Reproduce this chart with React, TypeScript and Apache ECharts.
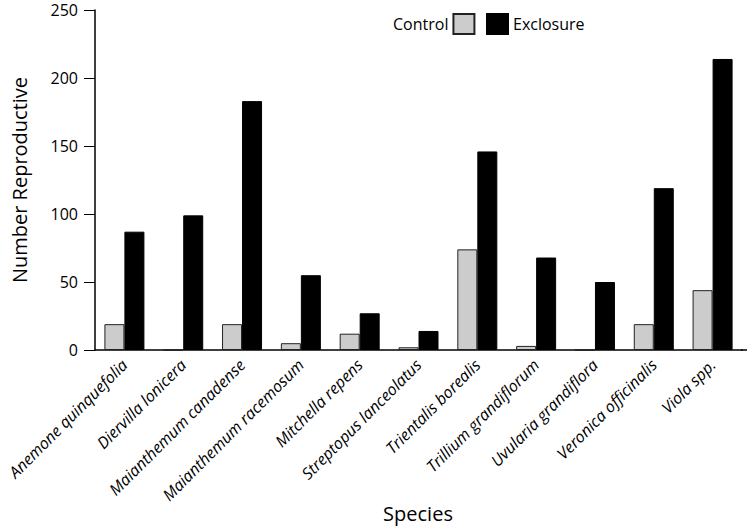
import React, { useEffect, useRef } from "react";
import * as echarts from "echarts";

const species = [
  "Anemone quinquefolia",
  "Diervilla lonicera",
  "Maianthemum canadense",
  "Maianthemum racemosum",
  "Mitchella repens",
  "Streptopus lanceolatus",
  "Trientalis borealis",
  "Trillium grandiflorum",
  "Uvularia grandiflora",
  "Veronica officinalis",
  "Viola spp.",
];
const control = [19, 0, 19, 5, 12, 2, 74, 3, 0, 19, 44];
const exclosure = [87, 99, 183, 55, 27, 14, 146, 68, 50, 119, 214];
const yTicks = [0, 50, 100, 150, 200, 250];

const FONT = "'Open Sans', 'Noto Sans', sans-serif";

export default function App() {
  const ref = useRef<HTMLDivElement>(null);
  useEffect(() => {
    if (!ref.current) return;
    const chart = echarts.init(ref.current, undefined, { renderer: "svg" });
    chart.setOption({
      animation: false,
      backgroundColor: "#ffffff",
      textStyle: { fontFamily: FONT },
      legend: [
        {
          data: ["Control"],
          left: 388,
          top: 8,
          align: "right",
          itemWidth: 21,
          itemHeight: 20,
          icon: "rect",
          textStyle: { fontSize: 16, color: "#000", fontFamily: FONT },
          selectedMode: false,
        },
        {
          data: ["Exclosure"],
          left: 481,
          top: 8,
          align: "left",
          itemWidth: 21,
          itemHeight: 20,
          icon: "rect",
          textStyle: { fontSize: 16, color: "#000", fontFamily: FONT },
          selectedMode: false,
        },
      ],
      grid: {
        left: 95,
        top: 10,
        width: 647,
        height: 340,
        containLabel: false,
        outerBoundsMode: "none",
      },
      graphic: [
        {
          type: "line",
          shape: { x1: 741, y1: 350, x2: 747, y2: 350 },
          style: { stroke: "#000", lineWidth: 1.5 },
        },
        {
          type: "text",
          x: 418,
          y: 513,
          style: {
            text: "Species",
            fontSize: 20,
            fontFamily: FONT,
            fill: "#000",
            textAlign: "center",
            textVerticalAlign: "middle",
          },
        },
      ],
      xAxis: {
        type: "category",
        data: species,
        axisLine: { lineStyle: { color: "#000", width: 1.5 } },
        axisTick: { show: false },
        axisLabel: {
          rotate: 45,
          interval: 0,
          margin: 12,
          fontStyle: "italic",
          fontSize: 16,
          color: "#000",
          fontFamily: FONT,
        },
      },
      yAxis: {
        type: "value",
        min: 0,
        max: 250,
        interval: 50,
        name: "Number Reproductive",
        nameLocation: "middle",
        nameGap: 66,
        nameTextStyle: { fontSize: 20, color: "#000", fontFamily: FONT },
        axisLine: { show: true, lineStyle: { color: "#000", width: 1.5 } },
        axisTick: { show: true, length: 11, lineStyle: { color: "#000", width: 1 } },
        axisLabel: {
          fontSize: 16,
          color: "#000",
          margin: 17,
          fontFamily: FONT,
          formatter: (v: number) => (yTicks.includes(v) ? String(v) : ""),
        },
        splitLine: { show: false },
      },
      series: [
        {
          name: "Control",
          type: "bar",
          data: control,
          barWidth: 20,
          barGap: "0%",
          itemStyle: { color: "#cccccc", borderColor: "#222", borderWidth: 1 },
        },
        {
          name: "Exclosure",
          type: "bar",
          data: exclosure,
          barWidth: 20,
          barGap: "0%",
          itemStyle: { color: "#000000", borderColor: "#000", borderWidth: 1 },
        },
      ],
    });
    return () => chart.dispose();
  }, []);
  return <div ref={ref} style={{ width: 752, height: 528, position: "absolute", left: 0, top: 0 }} />;
}
